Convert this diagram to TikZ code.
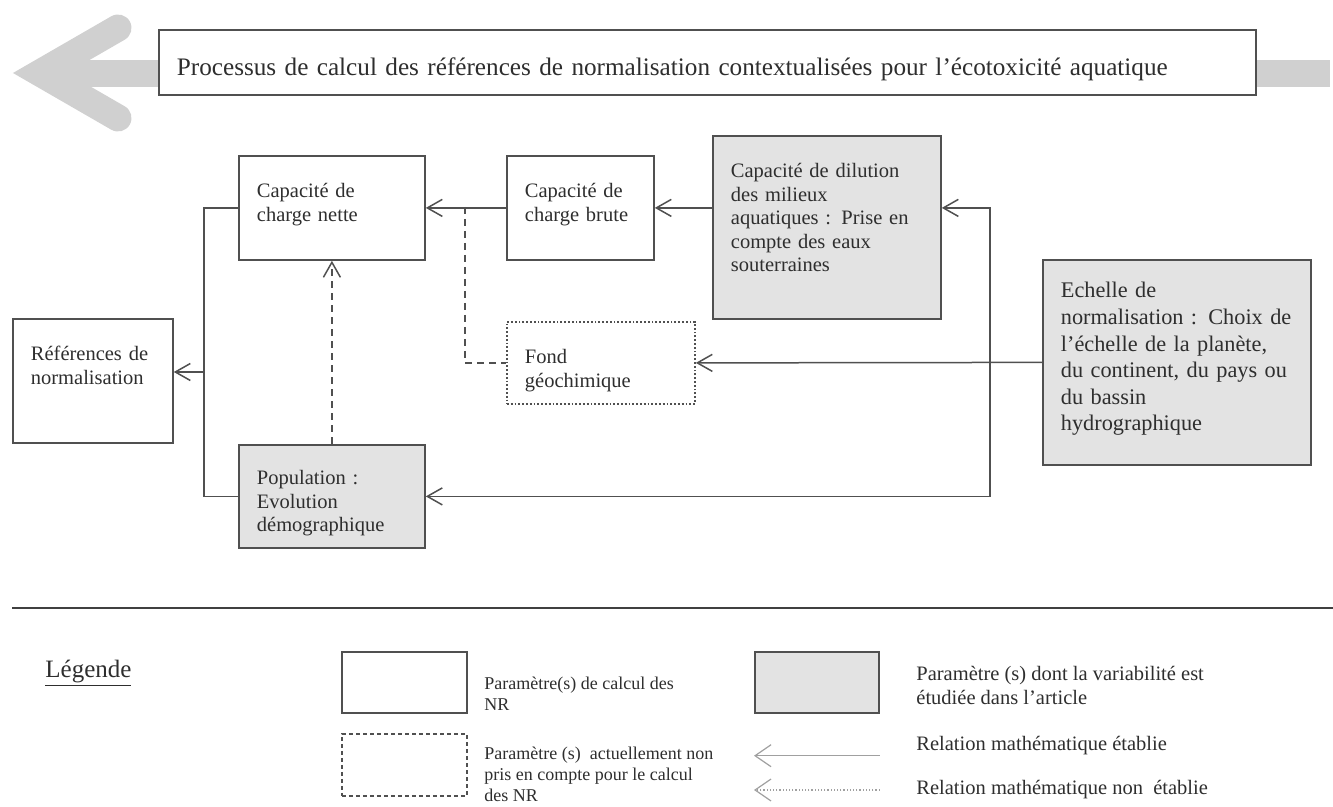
\documentclass[tikz,border=0pt]{standalone}
\usepackage{fontspec}
\setmainfont{Liberation Serif}
\usetikzlibrary{arrows.meta}

\definecolor{linegray}{HTML}{505050}
\definecolor{boxgray}{HTML}{E3E3E3}
\definecolor{arrowgray}{HTML}{D0D0D0}
\definecolor{keygray}{HTML}{A0A0A0}
\definecolor{textgray}{HTML}{2E2E2E}

\newcommand{\paramfont}{\fontsize{10.25}{11.75}\selectfont}
\newcommand{\keyfont}{\fontsize{9}{10.5}\selectfont}

\begin{document}
\begin{tikzpicture}[x=0.5pt,y=-0.5pt,
        param/.style={draw=linegray, line width=0.9pt, anchor=north west, align=left,
            inner xsep=9pt, inner ysep=0pt, text height=21pt, text=textgray, font=\paramfont},
        studied/.style={param, fill=boxgray},
        unused/.style={param, densely dotted},
        keybox/.style={draw=linegray, line width=0.9pt, anchor=north west, inner sep=0pt,
            minimum width=62.5pt, minimum height=30.5pt},
        keytext/.style={anchor=west, align=left, inner sep=0pt, text=textgray, font=\keyfont},
        rel/.style={draw=linegray, line width=0.75pt, -{Straight Barb[length=7.5pt,width=8.5pt]}},
        relnew/.style={rel, dash pattern=on 3.5pt off 2.5pt},
        keyarrow/.style={draw=keygray, line width=0.6pt, -{Straight Barb[length=8pt,width=11pt]}}]
    \useasboundingbox (0,0) rectangle (1333,807);

    % big arrow behind the title
    \fill[arrowgray] (40,60) rectangle (1330,87);
    \draw[arrowgray, line width=13.5pt, line cap=round, line join=miter] (118,28) -- (40,73) -- (118,118);
    \node[draw=linegray, line width=0.9pt, fill=white, anchor=north west, align=left,
        inner xsep=9pt, inner ysep=0pt, text width=530.5pt, text height=23pt, text depth=9.5pt,
        text=textgray, font=\fontsize{12.6}{15}\selectfont] (title) at (158,29)
        {Processus de calcul des références de normalisation contextualisées pour l’écotoxicité aquatique};

    % parameters
    \node[param, text width=75pt, text depth=31pt] (nette) at (238,155) {Capacité de\\charge nette};
    \node[param, text width=55.5pt, text depth=31pt] (brute) at (506,155) {Capacité de\\charge brute};
    \node[studied, text width=96pt, text depth=70.5pt] (dilution) at (712,135)
        {Capacité de dilution\\des milieux\\aquatiques : Prise en\\compte des eaux\\souterraines};
    \node[studied, text width=116pt, text height=19pt, text depth=83.5pt,
        font=\fontsize{11.15}{13.3}\selectfont] (echelle) at (1042,259)
        {Echelle de\\normalisation : Choix de\\l’échelle de la planète,\\du continent, du pays ou\\du bassin\\hydrographique};
    \node[param, text width=62pt, text depth=41pt] (refs) at (12,318) {Références de\\normalisation};
    \node[unused, text width=76pt, text depth=20pt] (fond) at (506,321) {Fond\\géochimique};
    \node[studied, text width=75pt, text height=20pt, text depth=31.5pt] (pop) at (238,444)
        {Population :\\Evolution\\démographique};

    \coordinate (jr) at (990,362);
    \coordinate (jl) at (204,372);
    \coordinate (jd) at (465,207);

    \draw[rel] (dilution.west |- brute.east) -- (brute.east);
    \draw[rel] (brute.west) -- (nette.east);
    \draw[rel] (echelle.west) -- (fond.east);
    \draw[rel] (jr) |- (dilution.east |- brute.east);
    \draw[rel] (jr) |- (pop.east);
    \draw[draw=linegray, line width=0.75pt] (nette.west) -| (jl) |- (pop.west);
    \draw[rel] (jl) -- (refs.east |- jl);
    \draw[relnew] (pop.north) -- (nette.south);
    \draw[draw=linegray, line width=0.75pt, dash pattern=on 3.5pt off 2.5pt] (jd) |- (fond.west);

    % legend
    \draw[black!75, line width=1.3pt] (12,608) -- (1333,608);
    \node[anchor=base west, inner sep=0pt, text=textgray, font=\fontsize{12.5}{15}\selectfont]
        (legend) at (45,677) {\underline{Légende}};
    \node[keybox] (keyparam) at (341,651) {};
    \node[keybox, minimum height=31pt, dash pattern=on 2pt off 1.5pt] (keyunused) at (341,733) {};
    \node[keybox, minimum width=62pt, fill=boxgray] (keystudied) at (754,651) {};
    \node[keytext] (keyparamtxt) at (484,694) {Paramètre(s) de calcul des\\NR};
    \node[keytext] (keyunusedtxt) at (484,774) {Paramètre (s)~ actuellement non\\pris en compte pour le calcul\\des NR};
    \node[keytext, font=\fontsize{10.25}{12}\selectfont] (keystudiedtxt) at (916,685)
        {Paramètre (s) dont la variabilité est\\étudiée dans l’article};
    \node[keytext, font=\paramfont] (keyrel) at (916,746) {Relation mathématique établie};
    \node[keytext, font=\paramfont] (keyrelnew) at (916,790) {Relation mathématique non~ établie};
    \draw[keyarrow] (keystudied.east |- keyrel.south) -- (keystudied.west |- keyrel.south);
    \draw[keyarrow, densely dotted] (keystudied.east |- keyrelnew.west) -- (keystudied.west |- keyrelnew.west);
\end{tikzpicture}
\end{document}
